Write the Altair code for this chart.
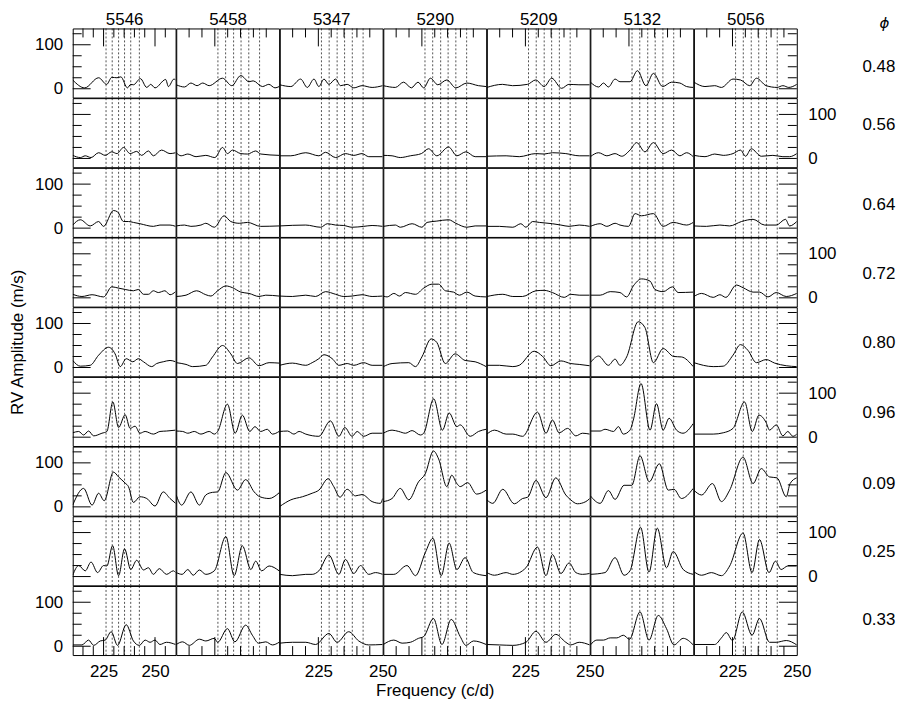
import altair as alt
import pandas as pd

# ---------------- data ----------------
RUNS = ["5546", "5458", "5347", "5290", "5209", "5132", "5056"]
PHASES = ["0.48", "0.56", "0.64", "0.72", "0.80", "0.96", "0.09", "0.25", "0.33"]
MODE_FREQS = [226.2, 229.2, 232.3, 235.2, 238.2, 242.4]
X_TICKS_MAJOR = [225, 250]
X_TICKS_MINOR = [215, 220, 230, 235, 240, 245, 255]
Y_TICKS_MAJOR = [0, 100]
Y_TICKS_MINOR = [25, 50, 75, 125]
X_LABELS = [225, 250]
Y_LABELS = [0, 100]

# (frequency c/d, amplitude m/s) per panel, one list per column (run)
ROW_048 = [
    [(210,20),(215.8,2),(222.6,25),(226.5,10),(229,26),(231.5,25),(233.4,27),(236.6,2),(238.2,10),(239.5,9),(242.9,23),(246,3),(247.9,10),(250,2),(255.2,21),(256.5,5),(259.2,22),(260,20)],
    [(210,9),(213.2,4),(215.7,13),(218.1,7),(220.3,13),(222.8,7),(228,24),(231.6,7),(235.1,30),(238.3,16),(239.9,18),(243.5,5),(246,10),(248.4,2),(250,5)],
    [(210,9),(214.3,5),(218.1,22),(220.7,3),(223.3,22),(225.2,5),(227.2,22),(229.1,10),(231.7,22),(233.6,7),(236.2,10),(238.8,2),(242,7),(245.9,3),(250,7)],
    [(210,7),(214.7,3),(217.9,15),(220.9,2),(223.5,15),(225.7,2),(228.3,24),(231.2,9),(234.7,20),(238.2,2),(242.5,13),(247,7),(250,5)],
    [(210,3),(216.1,10),(220,7),(225.8,10),(229,20),(232.3,5),(235.2,24),(239.1,1),(241.9,10),(245.8,9),(250,9)],
    [(210,15),(213.2,4),(215.1,13),(217,4),(219.6,22),(221.5,16),(225.4,16),(228.3,41),(231.6,7),(234.5,35),(238.1,5),(241.6,15),(244.8,13),(247.4,5),(250,3)],
    [(210,15),(214.3,5),(218.1,7),(220.7,3),(225.2,22),(228.1,20),(231.7,7),(234.3,24),(238.1,7),(242.3,3),(244.6,7),(246.9,3),(250,10)],
]
ROW_056 = [
    [(210,7),(213.7,2),(216.1,6),(218.9,2),(222.6,13),(225.8,7),(229,15),(231.5,11),(234.7,25),(237.9,11),(241.1,16),(243.5,7),(246.8,17),(249.2,6),(253.2,19),(257.3,11),(260,13)],
    [(210,13),(211.9,6),(214.5,10),(217.7,4),(221.5,7),(225,2),(228,25),(229.9,11),(231.9,19),(235.1,11),(237.7,10),(240.9,17),(242.9,10),(250,7)],
    [(210,6),(214.3,6),(220.1,13),(225.2,6),(227.8,14),(231.7,2),(235.5,11),(238.8,7),(242,11),(244.6,4),(250,4)],
    [(210,7),(213.4,6),(216.6,2),(220.5,6),(224.8,11),(227.6,22),(230.8,6),(235.4,26),(238.6,6),(242.1,15),(245.7,4),(250,4)],
    [(210,5),(217.5,6),(222.6,4),(229,11),(232.3,10),(235.5,13),(240.7,11),(245.9,6),(250,6)],
    [(210,4),(213.2,13),(216.4,6),(219.6,11),(222.2,5),(225.4,19),(228,36),(231.2,15),(234.5,36),(238.3,11),(241.6,19),(244.8,6),(247.4,13),(250,4)],
    [(210,7),(214.3,4),(218.1,10),(221.4,7),(225.2,11),(228.1,19),(230.1,5),(232.3,22),(236.2,5),(240.7,7),(244.6,4),(247.2,4),(250,11)],
]
ROW_064 = [
    [(210,7),(213.7,19),(218.5,5),(222.6,15),(225,4),(229.8,40),(231.8,37),(234.7,15),(237.1,15),(239.5,13),(242.7,10),(249.2,4),(252.4,7),(257.3,7),(260,4)],
    [(210,5),(213.2,7),(215.7,4),(219.6,7),(221.5,11),(224.8,2),(228.6,28),(231.2,15),(234.5,11),(237.7,13),(242.8,4),(250,5)],
    [(210,5),(220.1,7),(225.9,2),(228.5,10),(231.7,7),(234.9,6),(238.1,2),(242.6,4),(245.9,6),(250,4)],
    [(210,4),(214.7,7),(216.6,2),(221.2,10),(225,2),(227,13),(230.8,16),(235.4,19),(238.2,11),(242.5,2),(245.7,5),(250,5)],
    [(210,4),(214.9,4),(220.1,2),(223.2,10),(225.2,2),(227.8,15),(230.4,13),(235.5,10),(238.8,7),(242,4),(245.9,7),(250,4)],
    [(210,4),(213.8,10),(216.4,4),(219.6,11),(221.5,7),(224.8,4),(227.4,33),(229.9,28),(234.5,33),(238.3,4),(242.2,13),(247.4,7),(250,13)],
    [(210,5),(214.9,4),(220.1,7),(223.9,5),(228.5,15),(233,20),(237.5,7),(242,7),(245.6,20),(247.2,5),(250,15)],
]
ROW_072 = [
    [(210,8),(214.5,3),(219.4,7),(225,2),(229,25),(232.3,22),(235.5,19),(239.5,16),(241.9,19),(244.4,8),(246.8,8),(249.2,16),(251.6,12),(254.8,16),(257.3,7),(260,14)],
    [(210,3),(213.8,6),(217.9,16),(221.5,7),(223.5,4),(226.1,16),(229.3,27),(231.9,23),(235.1,13),(238.3,10),(242.2,3),(244.8,6),(250,4)],
    [(210,4),(214.9,3),(220.1,6),(223.9,3),(227.8,14),(231.7,8),(234.9,3),(238.1,4),(242,7),(245.9,3),(250,4)],
    [(210,4),(211.5,2),(214.1,10),(216.3,4),(218.6,12),(222.5,8),(225.7,22),(228.9,31),(231.5,31),(234.1,16),(237.3,13),(239.6,6),(242.5,13),(245.7,4),(250,2)],
    [(210,3),(216.2,8),(220.1,3),(223.9,3),(229.1,16),(232.3,17),(235.5,12),(240.1,1),(242.6,8),(245.9,6),(250,6)],
    [(210,6),(213.8,6),(217.7,14),(221.5,12),(224.1,2),(226.7,27),(229.9,43),(233.2,38),(235.1,19),(238.3,14),(241.9,25),(244.1,12),(250,13)],
    [(210,3),(213,10),(217.5,1),(220.1,7),(222.4,1),(226.5,29),(229.1,23),(233,13),(235.5,13),(238.8,2),(242,12),(245.9,3),(250,10)],
]
ROW_080 = [
    [(210,16),(213.7,3),(218.5,5),(222.6,28),(227.4,46),(230.6,31),(233.1,2),(236,20),(239.2,13),(241.9,20),(244.4,13),(248.4,2),(250.8,9),(254,13),(257.3,16),(260,13)],
    [(210,11),(213.8,7),(216.4,2),(221.5,5),(224.1,24),(228,50),(231.2,31),(233.8,9),(238.3,22),(242.2,4),(246.1,11),(250,10)],
    [(210,5),(214.9,10),(220.1,5),(222.6,11),(225.2,20),(227.2,29),(230.4,20),(233,5),(236.2,9),(238.8,5),(242.6,11),(245.9,5),(250,5)],
    [(210,2),(213.4,9),(219.9,11),(222.5,2),(225,24),(228.6,65),(230.8,57),(234.1,9),(237.9,31),(241.8,16),(245.7,13),(250,2)],
    [(210,5),(214.9,5),(220.1,2),(222.6,5),(228.4,37),(231.7,25),(234.9,4),(238.8,15),(242.6,9),(245.9,7),(250,4)],
    [(210,11),(213.2,26),(217,5),(219.6,19),(221.5,5),(224.1,24),(228.6,104),(231.2,91),(234.5,11),(238.3,43),(242.4,25),(245.4,24),(250,2)],
    [(210,11),(217.5,2),(221.4,3),(225.2,28),(228.1,52),(231,39),(234.3,11),(238.1,18),(241.4,10),(245.9,4),(250,2)],
]
ROW_096 = [
    [(210,10),(212.9,13),(215.3,5),(217.7,14),(220.2,3),(224.2,9),(226.6,13),(229.5,80),(232.3,22),(235.5,51),(237.9,20),(240.3,25),(242.7,9),(245.2,13),(249.2,7),(252.4,13),(255.6,14),(260,16)],
    [(210,14),(212.5,13),(214.5,9),(217,13),(219.6,7),(222.8,13),(224.8,7),(226.1,13),(229.9,75),(232.9,9),(235.7,50),(238.6,13),(240.6,24),(242.8,13),(245.4,18),(247.4,7),(250,13)],
    [(210,13),(213,14),(215.5,7),(217.5,13),(220.1,7),(225.2,2),(229.7,37),(233,2),(235.3,22),(238.1,2),(240.1,13),(242.6,2),(245.9,9),(250,9)],
    [(210,9),(213.4,16),(216,13),(218.6,9),(221.2,15),(224.4,5),(225.7,9),(229.6,87),(233,16),(235.6,55),(238.6,24),(239.9,28),(243.8,2),(247,13),(250,18)],
    [(210,7),(213,16),(217.5,7),(220.1,7),(223.9,2),(229.7,57),(233,9),(235.5,39),(238.1,10),(241.4,20),(244.6,3),(247.2,9),(250,7)],
    [(210,14),(213.8,14),(215.7,18),(219,13),(220.9,24),(222.8,7),(225.4,16),(226.7,39),(229.7,122),(233.2,16),(235.7,76),(238.3,16),(240.6,43),(243.5,16),(246,9),(250,31)],
    [(210,7),(217.5,7),(221.4,10),(225.2,20),(229.7,80),(232.7,13),(235.3,50),(238.1,33),(239.4,16),(242,28),(244.6,3),(246.5,13),(248.5,2),(250,7)],
]
ROW_009 = [
    [(210,4),(215.3,42),(219.4,4),(222.6,31),(225.3,14),(229.8,79),(232.3,68),(235.5,54),(237.1,46),(239.5,10),(242.7,23),(246,19),(250,2),(254,34),(257.3,19),(260,8)],
    [(210,27),(212.1,4),(215.7,34),(219,4),(221.5,27),(224.1,33),(226.1,34),(229.3,78),(233.8,38),(237,62),(240.3,34),(242.5,23),(246.1,19),(250,32)],
    [(210,1),(214.3,16),(218.8,23),(222.6,31),(225.2,38),(228.8,64),(231,46),(233.4,22),(236.2,40),(239.4,25),(242,28),(245.9,12),(249.1,8),(250,19)],
    [(210,12),(213.4,19),(216.6,42),(219.9,16),(223.7,57),(226.3,75),(229.5,127),(231.5,109),(234.7,46),(236.6,72),(238.6,53),(239.9,46),(242.8,55),(246.3,29),(250,38)],
    [(210,16),(212.3,8),(216.2,40),(220.7,7),(223.9,19),(225.9,22),(229.1,60),(233,21),(236.8,66),(240.7,27),(242.6,16),(245.2,7),(248.5,12),(250,19)],
    [(210,25),(213.8,8),(217,37),(219.6,17),(223.1,49),(226.1,49),(229.3,116),(232.9,57),(236.8,98),(240.3,38),(242.5,40),(245.4,19),(250,42)],
    [(210,38),(213,27),(217.2,53),(220.7,12),(223.9,38),(229.1,113),(233,53),(236.2,87),(239.4,68),(242.3,66),(245.9,23),(247.4,53),(250,66)],
]
ROW_025 = [
    [(210,3),(212.9,25),(216.1,13),(218.9,33),(222.1,9),(225,25),(226.6,24),(229.4,70),(232.3,2),(235.2,63),(238.2,16),(241.1,37),(244.4,15),(246.8,20),(249.2,5),(252.1,18),(255.6,5),(258.9,13),(260,9)],
    [(210,9),(212.3,5),(214.5,16),(216.6,3),(219,15),(221.5,5),(224.8,13),(229.3,91),(232.5,2),(235.7,70),(239,16),(240.9,35),(243.2,13),(246.1,24),(250,13)],
    [(210,5),(214.9,2),(220.1,5),(222.6,5),(225.2,13),(229.1,49),(233,5),(235.5,39),(238.8,7),(241.4,25),(244.6,5),(247.2,9),(250,5)],
    [(210,5),(214.1,5),(219.2,25),(222.5,2),(226.3,54),(229.3,87),(232.5,2),(235.6,76),(238.6,16),(241.8,43),(245,9),(250,2)],
    [(210,9),(213,3),(217.5,9),(220.1,5),(225.2,20),(229.7,67),(233,2),(235.5,50),(238.8,7),(242,31),(244.6,9),(247.2,5),(250,7)],
    [(210,5),(215.7,9),(219.6,43),(223.1,3),(225.4,13),(229.5,112),(232.8,10),(236,110),(239.6,20),(242.2,57),(246.1,16),(250,5)],
    [(210,11),(213,3),(216.8,9),(220.7,2),(223.9,24),(229.1,99),(232.6,9),(235.5,84),(239.2,9),(241.7,35),(243.9,16),(246.5,24),(250,24)],
]
ROW_033 = [
    [(210,3),(214.5,3),(217.7,14),(220.2,2),(223.4,12),(225.8,14),(228.7,33),(231.8,2),(236,49),(239.5,12),(242.4,2),(245.2,14),(247.6,9),(250,14),(252.4,4),(255.6,9),(260,4)],
    [(210,4),(212.5,10),(215.1,2),(219,16),(221.5,12),(224.8,18),(226.1,9),(229.9,40),(232.8,10),(237,48),(239.6,25),(242,7),(244.8,10),(247.4,3),(250,9)],
    [(210,7),(214.9,9),(220.1,9),(223.9,4),(229.1,29),(232.3,9),(236.8,33),(240.7,12),(244.6,3),(250,4)],
    [(210,4),(214.1,14),(217.3,7),(220.5,9),(223.7,18),(225.7,22),(229.5,63),(232.8,4),(236.4,61),(239.9,22),(242.1,2),(245.1,12),(250,4)],
    [(210,4),(214.9,3),(220.1,2),(225.2,9),(229.1,34),(233,9),(236.8,27),(240.7,9),(242.6,3),(245.9,9),(250,3)],
    [(210,3),(212.5,14),(215.1,14),(217.7,19),(220.3,19),(222.8,25),(225.2,16),(229.3,78),(232.8,14),(236.4,70),(239.6,40),(242.5,3),(246.1,18),(250,3)],
    [(210,4),(218.1,4),(220.7,19),(222.6,31),(225,13),(228.8,78),(232.6,25),(235.5,63),(239.4,9),(242,9),(245.9,13),(250,3)],
]
ROWS = [ROW_048, ROW_056, ROW_064, ROW_072, ROW_080, ROW_096, ROW_009, ROW_025, ROW_033]

# ---------------- styling ----------------
FONT = "Liberation Sans"
FS = 17
W = 103.34
H = 69.4
TICK_L, TICK_S = 18, 9
LABEL_DY = [4, -8, 3, 2, 1, 2, 3, 1, 0]
INK = "#000000"
Y_DOMAIN = [-20, 137]


def axis_common():
    return dict(grid=False, domain=False, ticks=False, tickSize=0,
                labelFont=FONT, labelFontSize=FS, labelColor=INK,
                labelFlush=False, labelOverlap=False)


def title_kw(text, x, y, angle, baseline):
    return dict(title=text, titleFont=FONT, titleFontSize=FS, titleFontWeight="normal",
                titleColor=INK, titleAngle=angle, titleAlign="center",
                titleBaseline=baseline, titleX=x, titleY=y)


def panel(r, c):
    x_max = 260 if c == 0 else 250
    xs = alt.Scale(domain=[210, x_max], nice=False, zero=False)
    ys = alt.Scale(domain=Y_DOMAIN, nice=False, zero=False)

    xaxis = None
    if r == 0:
        xaxis = alt.Axis(orient="top", labels=False, ticks=False, domain=False, grid=False,
                         **title_kw(RUNS[c], W / 2, -4, 0, "alphabetic"))
    elif r == 8 and c % 2 == 0:
        xaxis = alt.Axis(values=X_LABELS, labelPadding=9, title=None, **axis_common())
    elif r == 8 and c == 3:
        xaxis = alt.Axis(labels=False, grid=False, domain=False, ticks=False,
                         **title_kw("Frequency (c/d)", W / 2, 41, 0, "alphabetic"))

    yaxis = None
    if c == 0 and r % 2 == 0:
        kw = axis_common()
        kw.update(orient="left", values=Y_LABELS, labelPadding=10)
        if r == 4:
            kw.update(title_kw("RV Amplitude (m/s)", -46.3, H / 2, 270, "bottom"))
        else:
            kw.update(title=None)
        yaxis = alt.Axis(**kw)
    elif c == 6 and r % 2 == 1:
        kw = axis_common()
        kw.update(orient="right", values=Y_LABELS, labelPadding=11, title=None)
        yaxis = alt.Axis(**kw)

    X = alt.X("f:Q", scale=xs, axis=xaxis)
    Y = alt.Y("a:Q", scale=ys, axis=yaxis)

    layers = []
    # dotted mode-frequency guides
    layers.append(
        alt.Chart(pd.DataFrame({"f": MODE_FREQS}))
        .mark_rule(color=INK, strokeWidth=0.8, strokeDash=[2, 2], opacity=0.85)
        .encode(x=X)
    )
    xmaj = pd.DataFrame({"f": [v for v in X_TICKS_MAJOR if v < x_max]})
    xmin = pd.DataFrame({"f": [v for v in X_TICKS_MINOR if v < x_max]})
    ymaj = pd.DataFrame({"a": Y_TICKS_MAJOR})
    ymin = pd.DataFrame({"a": Y_TICKS_MINOR})
    tick = dict(color=INK, strokeWidth=1)
    if c == 0:
        layers.append(alt.Chart(ymaj).mark_rule(**tick).encode(y=Y, x=alt.value(0), x2=alt.value(TICK_L)))
        layers.append(alt.Chart(ymin).mark_rule(**tick).encode(y=Y, x=alt.value(0), x2=alt.value(TICK_S)))
    if c == 6:
        layers.append(alt.Chart(ymaj).mark_rule(**tick).encode(y=Y, x=alt.value(W - TICK_L), x2=alt.value(W)))
        layers.append(alt.Chart(ymin).mark_rule(**tick).encode(y=Y, x=alt.value(W - TICK_S), x2=alt.value(W)))
    if r == 0:
        layers.append(alt.Chart(xmaj).mark_rule(**tick).encode(x=X, y=alt.value(0), y2=alt.value(TICK_L)))
        layers.append(alt.Chart(xmin).mark_rule(**tick).encode(x=X, y=alt.value(0), y2=alt.value(TICK_S)))
    if r == 8:
        layers.append(alt.Chart(xmaj).mark_rule(**tick).encode(x=X, y=alt.value(H - TICK_L), y2=alt.value(H)))
        layers.append(alt.Chart(xmin).mark_rule(**tick).encode(x=X, y=alt.value(H - TICK_S), y2=alt.value(H)))

    # periodogram curve
    curve = pd.DataFrame(ROWS[r][c], columns=["f", "a"])
    layers.append(
        alt.Chart(curve)
        .mark_line(color=INK, strokeWidth=1, interpolate="monotone", clip=True)
        .encode(x=X, y=Y)
    )

    if c == 6:
        layers.append(
            alt.Chart(pd.DataFrame({"t": [PHASES[r]]}))
            .mark_text(font=FONT, fontSize=FS, color=INK, align="center", baseline="middle")
            .encode(text="t:N", x=alt.value(W + 82.5), y=alt.value(H / 2 + LABEL_DY[r]))
        )
        if r == 0:
            layers.append(
                alt.Chart(pd.DataFrame({"t": ["\u03d5"]}))
                .mark_text(font="DejaVu Sans", fontSize=15, fontStyle="italic", color=INK,
                           align="center", baseline="alphabetic")
                .encode(text="t:N", x=alt.value(W + 88), y=alt.value(0))
            )

    return alt.layer(*layers).properties(width=W, height=H)


panels = [panel(r, c) for r in range(9) for c in range(7)]

chart = (
    alt.concat(*panels, columns=7, spacing=0, bounds="flush")
    .properties(padding=0)
    .configure_view(stroke=INK, strokeWidth=1)
    .configure_axis(grid=False)
)

chart.save("out.html", embed_options={"renderer": "svg", "actions": False})
